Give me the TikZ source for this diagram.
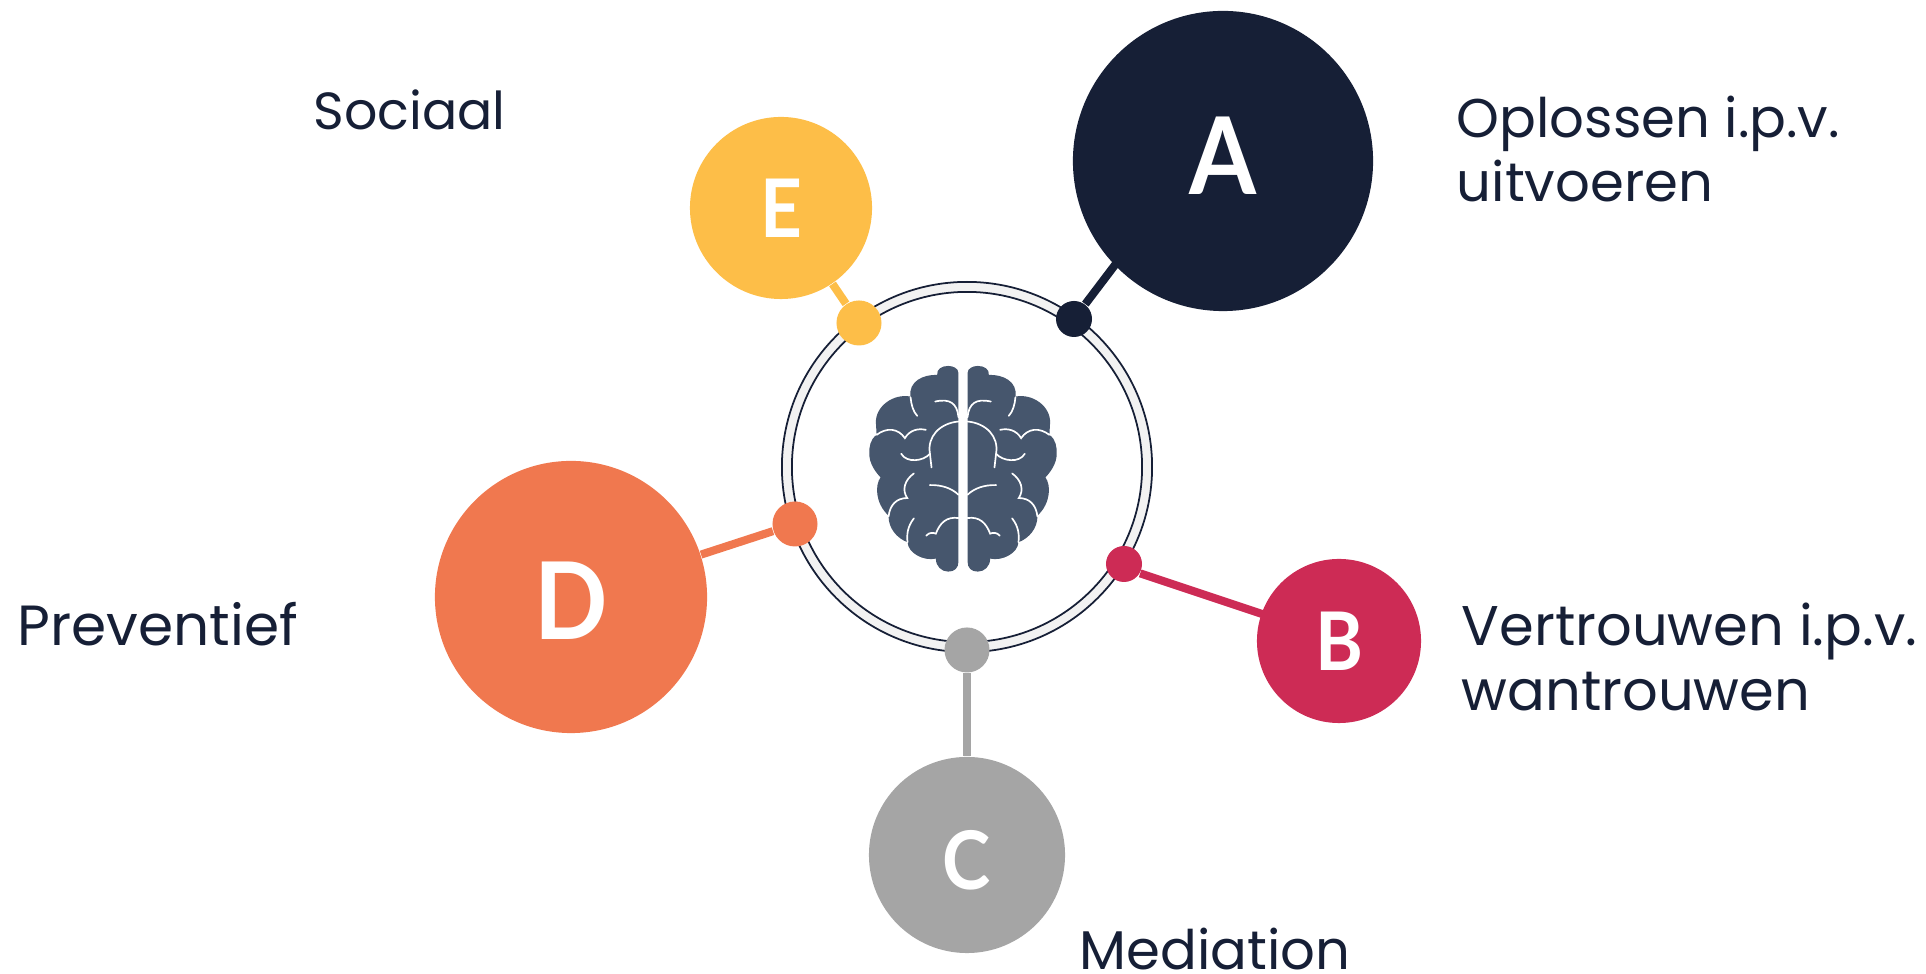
\documentclass[tikz,border=0pt]{standalone}
\usepackage{fontspec}
\setmainfont{Poppins}
\newfontfamily\letterfont[FakeStretch=0.9]{Lato}
\definecolor{navy}{HTML}{161F36}
\definecolor{ringgrey}{HTML}{F2F2F2}
\definecolor{amber}{HTML}{FDBE48}
\definecolor{crimson}{HTML}{CD2B55}
\definecolor{midgrey}{HTML}{A5A5A5}
\definecolor{coral}{HTML}{F0784F}
\definecolor{slate}{HTML}{46566D}
\tikzset{
  >=latex,
}
\tikzstyle{bubble}=[circle,inner sep=0pt,text=white]
\tikzstyle{bigletter}=[font=\letterfont\bfseries\fontsize{30.5}{30.5}\selectfont]
\tikzstyle{smallletter}=[font=\letterfont\bfseries\fontsize{23}{23}\selectfont]
\tikzstyle{dot}=[circle,inner sep=0pt]
\tikzstyle{link}=[line width=2.3pt]
\tikzstyle{vein}=[white,line width=.48pt,line cap=round]
\tikzstyle{ringline}=[circle,inner sep=0pt,draw=navy,line width=.5pt]
\tikzstyle{caption}=[anchor=west,align=left,inner sep=0pt,text=navy,font=\fontsize{15.5}{18.3}\selectfont]
\newcommand{\brainhalf}{
  \fill[slate] (356,100) .. controls (356,85) and (340,78) .. (325,78) .. controls (305,78) and (290,88) .. (292,105) .. controls (250,103) and (205,125) .. (212,170) .. controls (160,160) and (105,200) .. (108,250) -- (110,285) .. controls (90,300) and (88,320) .. (88,342) .. controls (88,370) and (105,395) .. (122,413) .. controls (105,435) and (105,490) .. (146,528) .. controls (145,565) and (170,595) .. (203,608) .. controls (205,640) and (250,665) .. (288,657) .. controls (288,680) and (305,696) .. (325,696) .. controls (345,696) and (356,685) .. (356,665) -- cycle;
  \draw[vein] (212,172) .. controls (214,195) and (220,215) .. (232,228);
  \draw[vein] (286,185) .. controls (330,175) and (352,190) .. (356,232);
  \draw[vein] (356,245) .. controls (300,250) and (262,290) .. (270,340) -- (275,383);
  \draw[vein] (184,342) .. controls (200,370) and (250,365) .. (270,342);
  \draw[vein] (110,285) .. controls (140,262) and (175,265) .. (195,295) .. controls (210,270) and (235,265) .. (258,270);
  \draw[vein] (222,401) .. controls (195,420) and (185,450) .. (202,475) .. controls (170,475) and (150,495) .. (146,530);
  \draw[vein] (270,436) .. controls (305,435) and (335,445) .. (356,465);
  \draw[vein] (222,536) .. controls (203,560) and (200,585) .. (203,608);
  \draw[vein] (356,535) .. controls (320,530) and (300,550) .. (288,582) .. controls (280,578) and (268,578) .. (259,588);
}
\begin{document}
\begin{tikzpicture}[x=.01cm,y=-.01cm]
  \useasboundingbox (0,0) rectangle (1926,974);
  \node[ringline,fill=ringgrey,minimum size=3.7cm] (ringout) at (967,467) {};
  \node[ringline,fill=white,minimum size=3.5cm] (ringin) at (967,467) {};
  \begin{scope}[shift={(840,340)},x=.00333cm,y=-.00333cm]
    \brainhalf
  \end{scope}
  \begin{scope}[shift={(1086,340)},x=-.00333cm,y=-.00333cm]
    \brainhalf
  \end{scope}
  \node[bubble,fill=navy,bigletter,minimum size=3cm,text height=21.9pt,text depth=2.8pt] (a) at (1223,161) {A};
  \node[bubble,fill=crimson,smallletter,minimum size=1.64cm] (b) at (1339,641) {B};
  \node[bubble,fill=midgrey,smallletter,minimum size=1.96cm,text height=19.7pt,text depth=0pt] (c) at (967,855) {C};
  \node[bubble,fill=coral,bigletter,minimum size=2.72cm,text height=24.2pt,text depth=0pt] (d) at (571,597) {D};
  \node[bubble,fill=amber,smallletter,minimum size=1.82cm] (e) at (781,208) {E};
  \node[dot,fill=navy,minimum size=.36cm] (dota) at (1074,319) {};
  \node[dot,fill=crimson,minimum size=.36cm] (dotb) at (1124,564) {};
  \node[dot,fill=midgrey,minimum size=.45cm] (dotc) at (967,650) {};
  \node[dot,fill=coral,minimum size=.45cm] (dotd) at (795,524) {};
  \node[dot,fill=amber,minimum size=.45cm] (dote) at (859,323) {};
  \coordinate (linka) at (1118,261);
  \coordinate (linkb) at (1265,615);
  \draw[link,navy] (dota)--(linka);
  \draw[link,crimson] (dotb.-30)--(linkb);
  \draw[link,midgrey] (c)--(dotc);
  \draw[link,coral] (d)--(dotd);
  \draw[link,amber] (e)--(dote);
  \node[caption] (capa) at (1456,149) {Oplossen i.p.v.\\uitvoeren};
  \node[caption,font=\fontsize{15.9}{18.3}\selectfont] (capb) at (1461,657) {Vertrouwen i.p.v.\\wantrouwen};
  \node[caption] (capc) at (1079,949) {Mediation};
  \node[caption,font=\fontsize{16.1}{18}\selectfont] (capd) at (17,624) {Preventief};
  \node[caption,font=\fontsize{14.85}{18}\selectfont] (cape) at (313,110) {Sociaal};
\end{tikzpicture}
\end{document}
